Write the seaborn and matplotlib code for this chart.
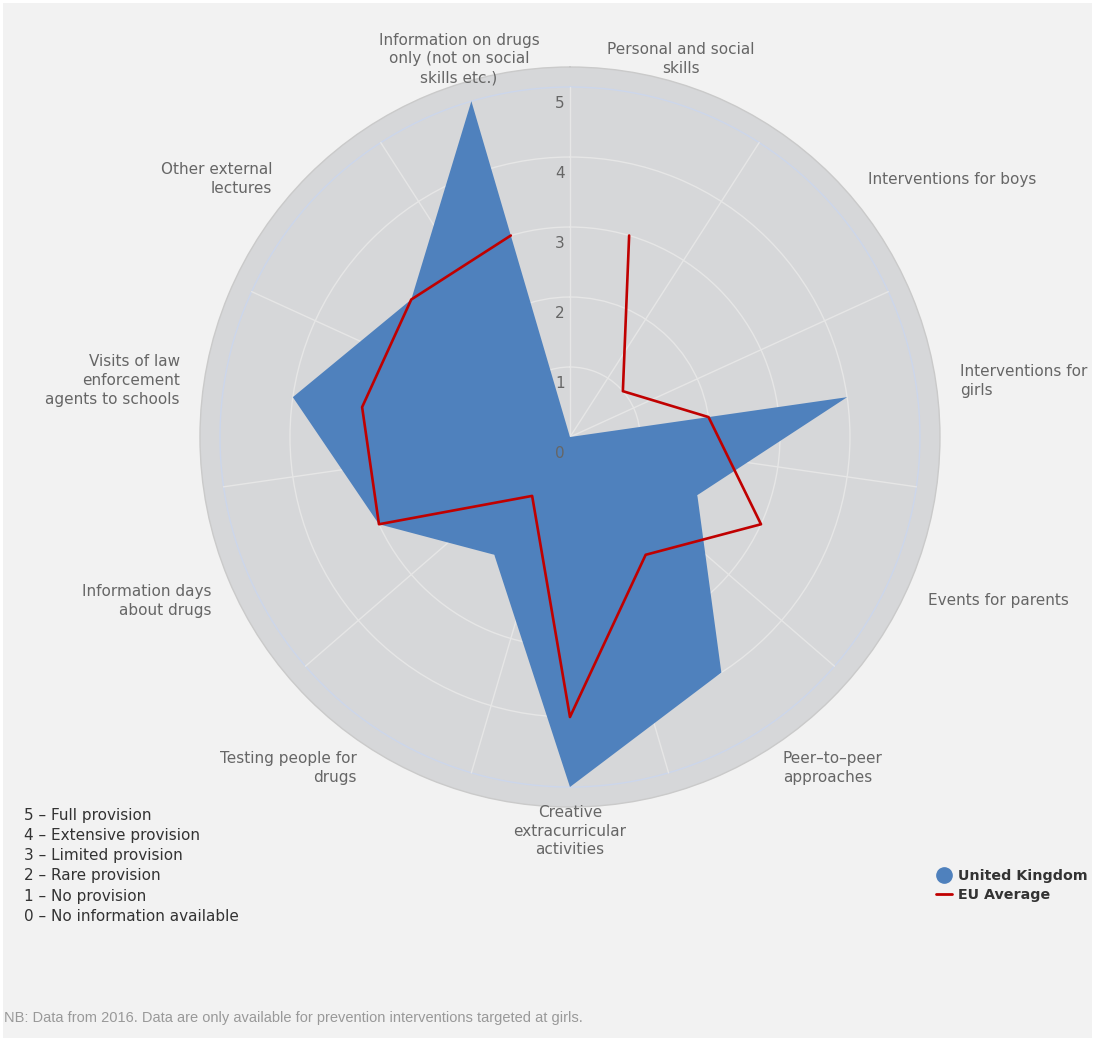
import numpy as np
import pandas as pd
import matplotlib.pyplot as plt
import matplotlib.transforms as mtransforms
from matplotlib.lines import Line2D
import seaborn as sns

# Data (clockwise from the top)
categories = [
    "Personal and social\nskills",
    "Interventions for boys",
    "Interventions for\ngirls",
    "Events for parents",
    "Peer\u2013to\u2013peer\napproaches",
    "Creative\nextracurricular\nactivities",
    "Testing people for\ndrugs",
    "Information days\nabout drugs",
    "Visits of law\nenforcement\nagents to schools",
    "Other external\nlectures",
    "Information on drugs\nonly (not on social\nskills etc.)",
]
uk_values = [0, 0, 4, 2, 4, 5, 2, 3, 4, 3, 5]
eu_values = [3, 1, 2, 3, 2, 4, 1, 3, 3, 3, 3]
scale_labels = [
    "5 \u2013 Full provision",
    "4 \u2013 Extensive provision",
    "3 \u2013 Limited provision",
    "2 \u2013 Rare provision",
    "1 \u2013 No provision",
    "0 \u2013 No information available",
]
note = "NB: Data from 2016. Data are only available for prevention interventions targeted at girls."

sns.set_theme(style="white")
plt.rcParams['font.family'] = ['DejaVu Sans']

n = len(categories)
step = 2 * np.pi / n
theta = (np.arange(n) + 0.5) * step

df = pd.DataFrame({'category': categories, 'theta': theta,
                   'uk': uk_values, 'eu': eu_values})
closed = pd.concat([df, df.iloc[:1]], ignore_index=True)

fig = plt.figure(figsize=(10.94, 10.42), dpi=100)
fig.patch.set_facecolor('white')
fig.patches.append(plt.Rectangle((0.003, 0.004), 0.995, 0.993, transform=fig.transFigure,
                                 facecolor='#f2f2f2', edgecolor='none', zorder=-10))

rmax = 370 / 70
ax = fig.add_axes([0.1828, 0.2255, 0.6764, 0.7102], projection='polar')
ax.set_theta_zero_location('N')
ax.set_theta_direction(-1)
ax.set_ylim(0, rmax)
ax.set_facecolor('#d6d7d9')
ax.spines['polar'].set_color('#cacaca')
ax.spines['polar'].set_linewidth(1.0)

# grid
ax.set_xticks(np.arange(n) * step)
ax.set_xticklabels([])
ax.set_yticks([1, 2, 3, 4])
ax.set_yticklabels([])
ax.grid(True, color='#e6e6e6', linewidth=1.0)
circ = np.linspace(0, 2 * np.pi, 400)
ax.plot(circ, np.full_like(circ, 5), color='#ccd6eb', lw=1.0, zorder=1)
for t in np.arange(n) * step:
    ax.plot([t, t], [0, 5], color='#e6e6e6', lw=1.0, zorder=1)
ax.xaxis.grid(False)

# series
ax.fill(closed['theta'], closed['uk'], color='#4f81bd', zorder=3, lw=0)
sns.lineplot(data=closed, x='theta', y='eu', sort=False, ax=ax,
             color='#c00000', linewidth=1.9, zorder=4, legend=False)
ax.set_xlabel('')
ax.set_ylabel('')
ax.set_ylim(0, rmax)

# radial tick labels
off = mtransforms.ScaledTranslation(-10 / 100, -16 / 100, fig.dpi_scale_trans)
for k in range(6):
    ax.text(0, k, str(k), transform=ax.transData + off, ha='center', va='center',
            fontsize=11, color='#666666', zorder=5)

# category labels
r_lab = 394 / 70
for t, lab in zip(theta, categories):
    s = np.sin(t)
    ha = 'center' if abs(s) < 0.3 else ('left' if s > 0 else 'right')
    ax.text(t, r_lab, lab, ha=ha, va='center', fontsize=11, color='#666666',
            linespacing=1.33, multialignment=ha)

# scale explanation
fig.text(24 / 1094, 1 - 808 / 1042, "\n".join(scale_labels), ha='left', va='top',
         fontsize=11, color='#333333', linespacing=1.43)

# legend
handles = [
    Line2D([], [], marker='o', linestyle='none', markersize=11, color='#4f81bd'),
    Line2D([], [], color='#c00000', linewidth=2),
]
leg = fig.legend(handles, ['United Kingdom', 'EU Average'], loc='upper left',
                 bbox_to_anchor=(929 / 1094, 1 - 862 / 1042), frameon=False,
                 prop={'weight': 'bold', 'size': 10.3}, handlelength=1.1,
                 handletextpad=0.45, labelspacing=0.32, borderpad=0)
for txt in leg.get_texts():
    txt.set_color('#333333')

fig.text(4 / 1094, 1 - 1018 / 1042, note, ha='left', va='center', fontsize=10.5,
         color='#999999', family=['Liberation Sans', 'DejaVu Sans'])

fig.savefig('out.png', dpi=100, facecolor=fig.get_facecolor())
